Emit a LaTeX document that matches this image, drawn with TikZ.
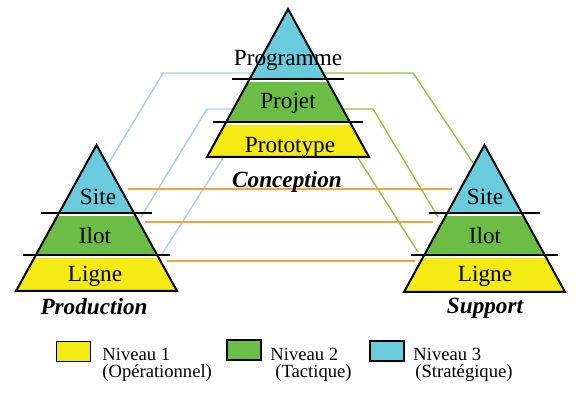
\documentclass[tikz,border=0pt]{standalone}
\usepackage{fontspec}
\setmainfont{Liberation Serif}
\usepackage{tikz}

\definecolor{lvlone}{HTML}{F4EB14}
\definecolor{lvltwo}{HTML}{6CBD45}
\definecolor{lvlthree}{HTML}{6ACBDC}
\definecolor{linkblue}{HTML}{A6D0EE}
\definecolor{linkgreen}{HTML}{8CC63E}
\definecolor{linkorange}{HTML}{F5A040}

% pyramid: #1 apex x, #2 apex y, #3 base y, #4 half base, #5 first divider y, #6 second divider y
\newcommand{\pyr}[6]{%
  \begin{scope}
    \clip (#1,#2) -- (#1-#4,#3) -- (#1+#4,#3) -- cycle;
    \fill[lvlthree] (#1-#4,#2) rectangle (#1+#4,#5);
    \fill[lvltwo] (#1-#4,#5) rectangle (#1+#4,#6);
    \fill[lvlone] (#1-#4,#6) rectangle (#1+#4,#3);
    \draw[white,line width=1.2pt] (#1-#4,#5+2) -- (#1+#4,#5+2);
    \draw[white,line width=1.2pt] (#1-#4,#6+2) -- (#1+#4,#6+2);
  \end{scope}
  \draw[pyramid] (#1,#2) -- (#1-#4,#3) -- (#1+#4,#3) -- cycle;
  \draw[divider] ({#1-#4*(#5-#2)/(#3-#2)-18},#5) -- ({#1+#4*(#5-#2)/(#3-#2)+18},#5);
  \draw[divider] ({#1-#4*(#6-#2)/(#3-#2)-13},#6) -- ({#1+#4*(#6-#2)/(#3-#2)+13},#6);
}

\begin{document}
\begin{tikzpicture}[x=0.5pt,y=-0.5pt,
    pyramid/.style={draw=black,line width=1pt,line join=miter},
    divider/.style={draw=black,line width=0.75pt},
    level/.style={font=\fontsize{11.6}{13}\selectfont,inner sep=0pt},
    title/.style={font=\fontsize{11.6}{13}\selectfont\bfseries\itshape,inner sep=0pt},
    legend/.style={font=\fontsize{9.3}{11}\selectfont,inner sep=0pt,anchor=west},
    swatch/.style={draw=black,line width=0.8pt,minimum width=17pt,minimum height=10pt,inner sep=0pt},
    blue link/.style={linkblue,line width=0.7pt},
    green link/.style={linkgreen,line width=0.7pt},
    orange link/.style={linkorange,line width=0.9pt}]
  \useasboundingbox (0,0) rectangle (576,394);

  % ends of the links
  \coordinate (cb1) at (253,73);
  \coordinate (cb1k) at (163,73);
  \coordinate (lb1) at (107.5,165);
  \coordinate (cb2) at (233,109);
  \coordinate (cb2k) at (207,109);
  \coordinate (lb2) at (141,217);
  \coordinate (cb3) at (223,158);
  \coordinate (lb3) at (162,254);
  \coordinate (cg1) at (323,73);
  \coordinate (cg1k) at (413,73);
  \coordinate (rg1) at (473,163);
  \coordinate (cg2) at (343,109);
  \coordinate (cg2k) at (373,109);
  \coordinate (rg2) at (438,217);
  \coordinate (cg3) at (358,158);
  \coordinate (rg3) at (418,252);
  \coordinate (lo1) at (128,189);
  \coordinate (ro1) at (452,189);
  \coordinate (lo2) at (145,222);
  \coordinate (ro2) at (433,222);
  \coordinate (lo3) at (167,261);
  \coordinate (ro3) at (415,261);

  \draw[blue link] (cb1) -- (cb1k) -- (lb1);
  \draw[blue link] (cb2) -- (cb2k) -- (lb2);
  \draw[blue link] (cb3) -- (lb3);
  \draw[green link] (cg1) -- (cg1k) -- (rg1);
  \draw[green link] (cg2) -- (cg2k) -- (rg2);
  \draw[green link] (cg3) -- (rg3);
  \draw[orange link] (lo1) -- (ro1);
  \draw[orange link] (lo2) -- (ro2);
  \draw[orange link] (lo3) -- (ro3);

  % the three pyramids
  \pyr{288}{9}{157}{81}{79}{122}
  \pyr{96.5}{145}{291}{80.5}{213}{255}
  \pyr{484.5}{145}{292}{80.5}{213}{255}

  \node[level] (cprog) at (288,60) {Programme};
  \node[level] (cproj) at (288,103) {Projet};
  \node[level] (cprot) at (290,147) {Prototype};
  \node[title] (conc) at (287,182) {Conception};

  \node[level] (psite) at (98,197) {Site};
  \node[level] (pilot) at (95,236) {Ilot};
  \node[level] (pligne) at (95,276) {Ligne};
  \node[title] (prod) at (94,307) {Production};

  \node[level] (ssite) at (485,197) {Site};
  \node[level] (silot) at (485,236) {Ilot};
  \node[level] (sligne) at (485,276) {Ligne};
  \node[title] (supp) at (485,308) {Support};

  % legend
  \node[swatch,fill=lvlone] (sw1) at (73.5,351.5) {};
  \node[swatch,fill=lvltwo] (sw2) at (244,350) {};
  \node[swatch,fill=lvlthree] (sw3) at (387,351) {};
  \node[legend] (n1) at (102,354) {Niveau 1};
  \node[legend] (d1) at (102,373) {(Opérationnel)};
  \node[legend] (n2) at (270,354) {Niveau 2};
  \node[legend] (d2) at (275,373) {(Tactique)};
  \node[legend] (n3) at (413,354) {Niveau 3};
  \node[legend] (d3) at (415,373) {(Stratégique)};
\end{tikzpicture}
\end{document}
